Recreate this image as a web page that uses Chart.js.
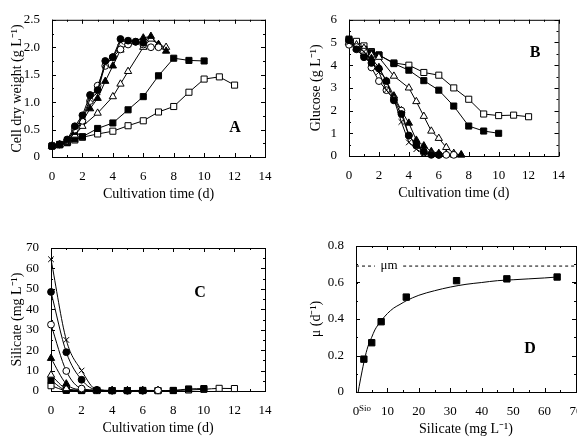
<!DOCTYPE html>
<html>
<head>
<meta charset="utf-8">
<script src="https://cdn.jsdelivr.net/npm/chart.js@4"></script>
<style>
  html, body { margin: 0; padding: 0; background: #fff; overflow: hidden; }
  body { width: 577px; height: 441px; position: relative; }
  canvas { position: absolute; }
</style>
</head>
<body>
<canvas id="chartA" width="288" height="207" style="left:0;top:0"></canvas>
<canvas id="chartB" width="287" height="206" style="left:290px;top:0"></canvas>
<canvas id="chartC" width="288" height="221" style="left:0;top:220px"></canvas>
<canvas id="chartD" width="310" height="222" style="left:290px;top:220px"></canvas>
<script>
// Panel A - cell dry weight (g/L) vs time (d), one series per initial silicate level
const cdwT2 = [0, 0.5, 1, 1.5, 2, 3, 4, 5, 6, 7, 8, 9, 10, 11, 12];
const cdwV2 = [0.2, 0.22, 0.27, 0.31, 0.36, 0.42, 0.47, 0.57, 0.66, 0.82, 0.92, 1.18, 1.42, 1.46, 1.31];
const cdwT5 = [0, 0.5, 1, 1.5, 2, 3, 4, 5, 6, 7, 8, 9, 10];
const cdwV5 = [0.2, 0.23, 0.26, 0.33, 0.37, 0.52, 0.62, 0.86, 1.1, 1.48, 1.8, 1.76, 1.75];
const cdwT8 = [0, 0.5, 1, 1.5, 2, 3, 4, 4.5, 5, 6, 6.5, 7, 7.5];
const cdwV8 = [0.2, 0.22, 0.27, 0.4, 0.56, 0.8, 1.1, 1.33, 1.56, 2.0, 2.15, 2.05, 2.0];
const cdwT16 = [0, 0.5, 1, 1.5, 2, 2.5, 3, 3.5, 4, 4.5, 5, 6, 6.5, 7, 7.5];
const cdwV16 = [0.2, 0.22, 0.28, 0.45, 0.65, 0.88, 1.07, 1.38, 1.66, 1.95, 2.08, 2.17, 2.2, 2.05, 1.93];
const cdwT32 = [0, 0.5, 1, 1.5, 2, 2.5, 3, 3.5, 4, 4.5, 5, 5.5, 6, 6.5, 7];
const cdwV32 = [0.2, 0.23, 0.3, 0.5, 0.66, 1.02, 1.3, 1.66, 1.82, 1.96, 2.05, 2.1, 2.05, 2.0, 2.0];
const cdwT48 = [0, 0.5, 1, 1.5, 2, 2.5, 3, 3.5, 4, 4.5, 5, 5.5, 6];
const cdwV48 = [0.2, 0.23, 0.32, 0.56, 0.76, 1.13, 1.22, 1.75, 1.82, 2.15, 2.12, 2.1, 2.08];
const cdwT64 = [0, 1, 2, 2.5, 3, 3.5, 4, 4.5, 5, 5.5];
const cdwV64 = [0.2, 0.3, 0.72, 1.05, 1.18, 1.7, 1.8, 2.1, 2.12, 2.1];

// Panel B - glucose (g/L) vs time (d)
const gluT2 = [0, 0.5, 1, 1.5, 2, 3, 4, 5, 6, 7, 8, 9, 10, 11, 12];
const gluV2 = [5.1, 5.05, 4.85, 4.6, 4.45, 4.1, 4.0, 3.68, 3.56, 3.0, 2.5, 1.85, 1.78, 1.8, 1.73];
const gluT5 = [0, 0.5, 1, 1.5, 2, 3, 4, 5, 6, 7, 8, 9, 10];
const gluV5 = [5.15, 4.75, 4.7, 4.55, 4.45, 4.07, 3.78, 3.32, 2.9, 2.2, 1.32, 1.1, 1.0];
const gluT8 = [0, 0.5, 1, 1.5, 2, 3, 4, 4.5, 5, 5.5, 6, 6.5, 7, 7.5];
const gluV8 = [5.0, 4.9, 4.75, 4.45, 4.35, 3.52, 3.0, 2.4, 1.75, 1.1, 0.78, 0.38, 0.12, 0.05];
const gluT16 = [0, 0.5, 1, 1.5, 2, 2.5, 3, 3.5, 4, 4.5, 5, 5.5, 6, 6.5, 7, 7.5];
const gluV16 = [5.0, 4.75, 4.5, 4.3, 3.9, 3.3, 2.65, 2.0, 1.45, 0.7, 0.45, 0.2, 0.12, 0.08, 0.05, 0.05];
const gluT32 = [0, 0.5, 1, 1.5, 2, 2.5, 3, 3.5, 4, 4.5, 5, 5.5, 6, 6.5, 7];
const gluV32 = [4.9, 4.8, 4.6, 3.9, 3.3, 2.9, 2.5, 2.0, 0.9, 0.45, 0.15, 0.08, 0.05, 0.05, 0.05];
const gluT48 = [0, 0.5, 1, 1.5, 2, 2.5, 3, 3.5, 4, 4.5, 5, 5.5, 6];
const gluV48 = [5.1, 4.7, 4.35, 4.1, 3.85, 3.3, 2.45, 1.85, 0.9, 0.5, 0.2, 0.05, 0.05];
const gluT64 = [0, 1, 2, 2.5, 3, 3.5, 4, 4.5, 5];
const gluV64 = [5.0, 4.6, 3.7, 2.9, 2.5, 1.5, 0.6, 0.3, 0.1];

// Panel C - residual silicate (mg/L) vs time (d)
const silT2 = [0, 1, 2, 3, 4, 5, 6, 7, 8, 9, 10, 11, 12];
const silV2 = [2.6, 0.3, 0.2, 0.2, 0.2, 0.2, 0.3, 0.2, 0.2, 0.5, 0.8, 1.3, 1.2];
const silT5 = [0, 1, 2, 3, 4, 5, 6, 7, 8, 9, 10];
const silV5 = [5.2, 0.5, 0.3, 0.3, 0.2, 0.2, 0.2, 0.2, 0.3, 1.0, 1.2];
const silT8 = [0, 1, 2, 3, 4, 5, 6, 7];
const silV8 = [7.8, 1.2, 0.4, 0.3, 0.2, 0.2, 0.2, 0.2];
const silT16 = [0, 1, 2, 3, 4, 5, 6, 7];
const silV16 = [16, 3.5, 0.6, 0.3, 0.2, 0.2, 0.2, 0.2];
const silT32 = [0, 1, 2, 3, 4, 5, 6, 7];
const silV32 = [32.5, 9.8, 1.2, 0.4, 0.2, 0.2, 0.2, 0.3];
const silT48 = [0, 1, 2, 3, 4, 5, 6];
const silV48 = [48.5, 19, 5.5, 0.5, 0.2, 0.2, 0.2];
const silT64 = [0, 1, 2, 3, 4, 5];
const silV64 = [64.5, 25, 10, 0.6, 0.3, 0.2];

// Panel D - specific growth rate vs silicate
const muSi = [2.5, 5, 8, 16, 32, 48, 64];
const muVal = [0.18, 0.27, 0.385, 0.52, 0.61, 0.62, 0.63];
const fitSi = [0.7, 1, 2, 3, 4, 5, 6, 8, 10, 12, 14, 16, 20, 25, 30, 35, 40, 45, 50, 55, 60, 64];
const fitMu = [0, 0.03, 0.12, 0.2, 0.26, 0.3, 0.34, 0.39, 0.43, 0.46, 0.48, 0.5, 0.53, 0.555, 0.575, 0.59, 0.6, 0.61, 0.615, 0.62, 0.625, 0.63];
const muMaxSi = [0, 6, 10, 15, 70];
const muMax = [0.69, 0.69, null, 0.69, 0.69];

const FONT = 'Liberation Serif';
Chart.defaults.font.family = FONT;
Chart.defaults.color = '#000';

// marker styles for the seven silicate levels
const markers = {
  s2:  { pointStyle: 'rect', fill: '#fff', r: 4.3 },
  s5:  { pointStyle: 'rect', fill: '#000', r: 4.3 },
  s8:  { pointStyle: 'triangle', fill: '#fff', r: 4.2 },
  s16: { pointStyle: 'triangle', fill: '#000', r: 4.2 },
  s32: { pointStyle: 'circle', fill: '#fff', r: 3.4 },
  s48: { pointStyle: 'circle', fill: '#000', r: 3.4 },
  s64: { pointStyle: 'crossRot', fill: '#000', r: 4 }
};

function toPoints(xs, ys) {
  return xs.map((x, i) => ({ x: x, y: ys[i] }));
}

function series(label, xs, ys, key, smooth) {
  const m = markers[key];
  return {
    label: label,
    data: toPoints(xs, ys),
    borderColor: '#000',
    borderWidth: 1,
    pointStyle: m.pointStyle,
    pointRadius: m.r,
    pointBackgroundColor: m.fill,
    pointBorderColor: '#000',
    pointBorderWidth: 1,
    cubicInterpolationMode: smooth ? 'monotone' : 'default',
    clip: false
  };
}

// box frame, inward ticks and the panel letter
const framePlugin = {
  id: 'frame',
  beforeDatasetsDraw(chart, args, opts) {
    const { ctx, chartArea: a, scales: { x, y } } = chart;
    ctx.save();
    ctx.strokeStyle = '#000';
    ctx.lineWidth = 1;
    ctx.strokeRect(a.left + 0.5, a.top + 0.5, a.width, a.height);
    const tick = (scale, step, len, horiz) => {
      for (let v = scale.min; v <= scale.max + 1e-9; v += step) {
        const p = Math.round(scale.getPixelForValue(v)) + 0.5;
        ctx.beginPath();
        if (horiz) {
          ctx.moveTo(p, a.bottom); ctx.lineTo(p, a.bottom - len);
          ctx.moveTo(p, a.top); ctx.lineTo(p, a.top + len);
        } else {
          ctx.moveTo(a.left, p); ctx.lineTo(a.left + len, p);
          ctx.moveTo(a.right, p); ctx.lineTo(a.right - len, p);
        }
        ctx.stroke();
      }
    };
    tick(x, opts.xMinor, 2, true);
    tick(x, x.options.ticks.stepSize, 4, true);
    tick(y, opts.yMinor, 2, false);
    tick(y, y.options.ticks.stepSize, 4, false);
    ctx.fillStyle = '#000';
    ctx.font = 'bold 16px ' + FONT;
    ctx.textAlign = 'center';
    ctx.textBaseline = 'middle';
    ctx.fillText(opts.letter, opts.letterX, opts.letterY);
    if (opts.extra) opts.extra(chart);
    ctx.restore();
  }
};

function axes(cfg) {
  return {
    x: {
      type: 'linear', min: cfg.xMin, max: cfg.xMax,
      grid: { display: false, drawTicks: false },
      border: { display: false },
      ticks: { stepSize: cfg.xStep, autoSkip: false, maxRotation: 0, padding: 12, font: { size: 13 } },
      title: { display: true, text: cfg.xTitle, font: { size: 14 }, padding: { top: 4, bottom: 4 } },
      afterFit: s => { s.height = 50; }
    },
    y: {
      type: 'linear', min: cfg.yMin, max: cfg.yMax,
      grid: { display: false, drawTicks: false },
      border: { display: false },
      ticks: { stepSize: cfg.yStep, padding: 12, font: { size: 13 } },
      title: { display: true, text: cfg.yTitle, font: { size: 14 }, padding: { top: cfg.yTitlePad, bottom: 0 } },
      afterFit: s => { s.width = cfg.yWidth; }
    }
  };
}

function baseOptions(cfg, frame) {
  return {
    responsive: false,
    animation: false,
    layout: { padding: cfg.pad },
    scales: axes(cfg),
    plugins: { legend: { display: false }, tooltip: { enabled: false }, frame: frame }
  };
}

new Chart(document.getElementById('chartA'), {
  type: 'line',
  data: {
    datasets: [
      series('64', cdwT64, cdwV64, 's64'),
      series('48', cdwT48, cdwV48, 's48'),
      series('32', cdwT32, cdwV32, 's32'),
      series('16', cdwT16, cdwV16, 's16'),
      series('8', cdwT8, cdwV8, 's8'),
      series('5', cdwT5, cdwV5, 's5'),
      series('2.5', cdwT2, cdwV2, 's2')
    ]
  },
  options: baseOptions({
    xMin: 0, xMax: 14, xStep: 2, yMin: 0, yMax: 2.5, yStep: 0.5,
    xTitle: 'Cultivation time (d)', yTitle: 'Cell dry weight (g L\u207B\u00B9)',
    yWidth: 52, yTitlePad: 9, pad: { top: 13, right: 23, left: 0, bottom: 0 }
  }, { letter: 'A', letterX: 235, letterY: 128, xMinor: 1, yMinor: 0.25 }),
  plugins: [framePlugin]
});

new Chart(document.getElementById('chartB'), {
  type: 'line',
  data: {
    datasets: [
      series('64', gluT64, gluV64, 's64'),
      series('48', gluT48, gluV48, 's48'),
      series('32', gluT32, gluV32, 's32'),
      series('16', gluT16, gluV16, 's16'),
      series('8', gluT8, gluV8, 's8'),
      series('5', gluT5, gluV5, 's5'),
      series('2.5', gluT2, gluV2, 's2')
    ]
  },
  options: baseOptions({
    xMin: 0, xMax: 14, xStep: 2, yMin: 0, yMax: 6, yStep: 1,
    xTitle: 'Cultivation time (d)', yTitle: 'Glucose (g L\u207B\u00B9)',
    yWidth: 59, yTitlePad: 18, pad: { top: 13, right: 11, left: 0, bottom: 0 }
  }, { letter: 'B', letterX: 245, letterY: 53, xMinor: 1, yMinor: 0.5 }),
  plugins: [framePlugin]
});

new Chart(document.getElementById('chartC'), {
  type: 'line',
  data: {
    datasets: [
      series('64', silT64, silV64, 's64', true),
      series('48', silT48, silV48, 's48', true),
      series('32', silT32, silV32, 's32', true),
      series('16', silT16, silV16, 's16', true),
      series('8', silT8, silV8, 's8', true),
      series('5', silT5, silV5, 's5', true),
      series('2.5', silT2, silV2, 's2', true)
    ]
  },
  options: baseOptions({
    xMin: 0, xMax: 14, xStep: 2, yMin: 0, yMax: 70, yStep: 10,
    xTitle: 'Cultivation time (d)', yTitle: 'Silicate (mg L\u207B\u00B9)',
    yWidth: 51, yTitlePad: 9, pad: { top: 28, right: 23, left: 0, bottom: 0 }
  }, { letter: 'C', letterX: 200, letterY: 73, xMinor: 1, yMinor: 5 }),
  plugins: [framePlugin]
});

new Chart(document.getElementById('chartD'), {
  type: 'line',
  data: {
    datasets: [
      {
        label: 'measured',
        data: toPoints(muSi, muVal),
        showLine: false,
        pointStyle: 'rect',
        pointRadius: 4.5,
        pointBackgroundColor: '#000',
        pointBorderColor: '#000',
        clip: false
      },
      {
        label: 'fit',
        data: toPoints(fitSi, fitMu),
        borderColor: '#000',
        borderWidth: 1,
        pointRadius: 0,
        cubicInterpolationMode: 'monotone'
      },
      {
        label: 'mu max',
        data: toPoints(muMaxSi, muMax),
        borderColor: '#000',
        borderWidth: 1,
        borderDash: [3, 3],
        pointRadius: 0,
        spanGaps: false
      }
    ]
  },
  options: baseOptions({
    xMin: 0, xMax: 70, xStep: 10, yMin: 0, yMax: 0.8, yStep: 0.2,
    xTitle: 'Silicate (mg L\u207B\u00B9)', yTitle: '\u03BC (d\u207B\u00B9)',
    yWidth: 66, yTitlePad: 18, pad: { top: 26, right: 24, left: 0, bottom: 0 }
  }, {
    letter: 'D', letterX: 240, letterY: 129, xMinor: 5, yMinor: 0.1,
    extra: function(chart) {
      const { ctx, scales: { x, y } } = chart;
      ctx.font = '13px ' + FONT;
      ctx.textAlign = 'center';
      ctx.textBaseline = 'middle';
      ctx.fillText('\u03BCm', x.getPixelForValue(10.5), y.getPixelForValue(0.69));
      ctx.font = '9px ' + FONT;
      ctx.textAlign = 'left';
      ctx.fillText('Sio', x.getPixelForValue(0) + 3, chart.chartArea.bottom + 17);
    }
  }),
  plugins: [framePlugin]
});
</script>
</body>
</html>
